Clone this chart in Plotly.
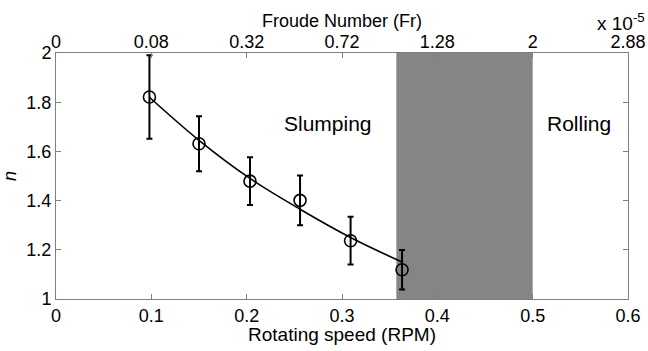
import plotly.graph_objects as go

# Data
rpm = [0.098, 0.150, 0.2035, 0.256, 0.309, 0.363]
n_vals = [1.821, 1.631, 1.479, 1.401, 1.237, 1.119]
n_err = [0.17, 0.112, 0.097, 0.101, 0.097, 0.08]

fit_rpm = [0.098, 0.150, 0.2035, 0.256, 0.309, 0.363]
fit_n = [1.82, 1.645, 1.49, 1.365, 1.25, 1.15]

bottom_ticks = [0, 0.1, 0.2, 0.3, 0.4, 0.5, 0.6]
bottom_labels = ["0", "0.1", "0.2", "0.3", "0.4", "0.5", "0.6"]
top_labels = ["0", "0.08", "0.32", "0.72", "1.28", "2", "2.88"]
y_ticks = [1, 1.2, 1.4, 1.6, 1.8, 2]
y_labels = ["1", "1.2", "1.4", "1.6", "1.8", "2"]

transition = [0.357, 0.5]

FONT = "Liberation Sans, Arial, sans-serif"
AX = "#7f7f7f"

L, R, T, B = 56, 20, 53, 52
W, H = 648, 351
PW, PH = W - L - R, H - T - B


def px_x(p):
    return (p - L) / PW


def px_y(p):
    return 1 - (p - T) / PH


fig = go.Figure()

fig.add_trace(go.Scatter(
    x=fit_rpm, y=fit_n, mode="lines", line=dict(color="black", width=1.6, shape="spline"),
    showlegend=False, hoverinfo="skip"))

fig.add_trace(go.Scatter(
    x=rpm, y=n_vals, mode="markers",
    marker=dict(symbol="circle-open", size=12, color="black", line=dict(width=1.6, color="black")),
    error_y=dict(type="data", array=n_err, visible=True, color="black", thickness=2, width=3),
    showlegend=False))

# invisible trace to anchor the top axis
fig.add_trace(go.Scatter(x=[0, 0.6], y=[1, 1], xaxis="x2", mode="markers",
                         marker=dict(opacity=0), showlegend=False, hoverinfo="skip"))

fig.add_shape(type="rect", xref="x", yref="y", x0=transition[0], x1=transition[1], y0=1, y1=2,
              fillcolor="#858585", line=dict(width=0), layer="below")

fig.add_annotation(x=0.285, y=1.714, xref="x", yref="y", text="Slumping", showarrow=False,
                   font=dict(family=FONT, size=21, color="black"))
fig.add_annotation(x=0.549, y=1.714, xref="x", yref="y", text="Rolling", showarrow=False,
                   font=dict(family=FONT, size=21, color="black"))
fig.add_annotation(x=px_x(647), y=px_y(22), xref="paper", yref="paper",
                   text="x 10<sup>-5</sup>", showarrow=False, xanchor="right", yanchor="middle",
                   font=dict(family=FONT, size=19, color="black"))
# bottom axis title
fig.add_annotation(x=0.3, y=px_y(334), xref="x", yref="paper",
                   text="Rotating speed (RPM)", showarrow=False, xanchor="center", yanchor="middle",
                   font=dict(family=FONT, size=19, color="black"))

fig.update_layout(
    width=W, height=H,
    margin=dict(l=L, r=R, t=T, b=B, autoexpand=False),
    paper_bgcolor="white", plot_bgcolor="white",
    font=dict(family=FONT, size=18, color="black"),
    xaxis=dict(range=[0, 0.6], tickvals=bottom_ticks, ticktext=bottom_labels, automargin=False,
               ticks="inside", ticklen=5, tickcolor=AX, showline=True, linecolor=AX, linewidth=1,
               mirror=True, showgrid=False, zeroline=False),
    xaxis2=dict(range=[0, 0.6], overlaying="x", side="top", tickvals=bottom_ticks, ticktext=top_labels,
                automargin=False,
                ticks="inside", ticklen=5, tickcolor=AX, showline=False, showgrid=False, zeroline=False,
                title=dict(text="Froude Number (Fr)", font=dict(size=18), standoff=0)),
    yaxis=dict(range=[1, 2], tickvals=y_ticks, ticktext=y_labels, automargin=False,
               ticks="inside", ticklen=5, tickcolor=AX, showline=True, linecolor=AX, linewidth=1,
               mirror="ticks", showgrid=False, zeroline=False,
               title=dict(text="<i>n</i>", font=dict(size=18), standoff=6)),
)

fig.write_html("out.html", config={"displayModeBar": False})

# remove the default page margin so the figure fills the window exactly
with open("out.html", "r", encoding="utf-8") as f:
    html = f.read()
html = html.replace("<head>", "<head><style>html,body{margin:0;padding:0;overflow:hidden;}</style>", 1)
with open("out.html", "w", encoding="utf-8") as f:
    f.write(html)
